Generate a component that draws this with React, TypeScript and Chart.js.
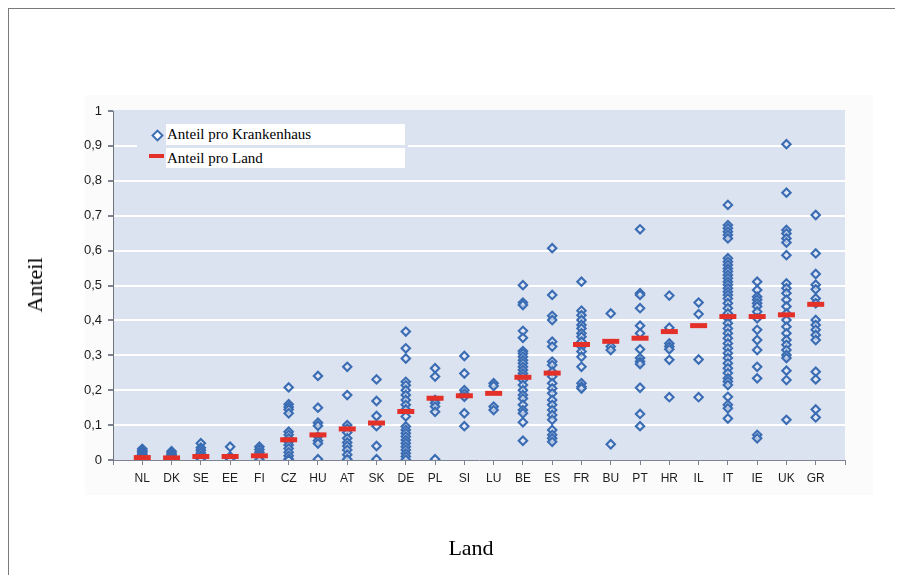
import React, { useEffect, useRef } from "react";
import { Chart, registerables } from "chart.js";

Chart.register(...registerables);

const countries = ["NL", "DK", "SE", "EE", "FI", "CZ", "HU", "AT", "SK", "DE", "PL", "SI", "LU", "BE", "ES", "FR", "BU", "PT", "HR", "IL", "IT", "IE", "UK", "GR"];

const countryMeans = [0.007, 0.006, 0.01, 0.01, 0.012, 0.058, 0.072, 0.089, 0.106, 0.139, 0.177, 0.184, 0.191, 0.237, 0.249, 0.331, 0.34, 0.349, 0.368, 0.385, 0.411, 0.411, 0.416, 0.446];

const NL = [0.032, 0.028, 0.024, 0.02, 0.016, 0.012, 0.008, 0.004, 0.0];
const DK = [0.025, 0.02, 0.016, 0.012, 0.008, 0.004, 0.0];
const SE = [0.048, 0.035, 0.028, 0.02, 0.012, 0.005, 0.0];
const EE = [0.038, 0.01, 0.004, 0.0];
const FI = [0.038, 0.03, 0.022, 0.015, 0.008, 0.0];
const CZ = [0.208, 0.16, 0.152, 0.145, 0.134, 0.081, 0.072, 0.062, 0.052, 0.043, 0.033, 0.022, 0.012, 0.003, 0.0];
const HU = [0.241, 0.15, 0.107, 0.098, 0.067, 0.055, 0.047, 0.002];
const AT = [0.267, 0.186, 0.1, 0.09, 0.079, 0.062, 0.05, 0.04, 0.029, 0.015, 0.002];
const SK = [0.231, 0.169, 0.126, 0.097, 0.04, 0.002];
const DE = [0.368, 0.32, 0.291, 0.224, 0.214, 0.2, 0.186, 0.172, 0.158, 0.145, 0.125, 0.096, 0.086, 0.077, 0.067, 0.057, 0.048, 0.038, 0.029, 0.019, 0.01, 0.001];
const PL = [0.263, 0.239, 0.172, 0.163, 0.153, 0.138, 0.002];
const SI = [0.298, 0.248, 0.2, 0.19, 0.181, 0.134, 0.097];
const LU = [0.22, 0.212, 0.153, 0.143];
const BE = [0.501, 0.451, 0.444, 0.37, 0.35, 0.312, 0.305, 0.296, 0.286, 0.277, 0.267, 0.258, 0.248, 0.239, 0.229, 0.215, 0.2, 0.186, 0.176, 0.158, 0.143, 0.134, 0.108, 0.055];
const ES = [0.607, 0.473, 0.413, 0.401, 0.339, 0.325, 0.282, 0.272, 0.253, 0.239, 0.22, 0.205, 0.191, 0.172, 0.158, 0.143, 0.129, 0.115, 0.086, 0.072, 0.062, 0.052];
const FR = [0.511, 0.428, 0.415, 0.401, 0.387, 0.377, 0.363, 0.353, 0.339, 0.325, 0.311, 0.296, 0.267, 0.22, 0.21, 0.205];
const BU = [0.42, 0.325, 0.315, 0.045];
const PT = [0.661, 0.478, 0.473, 0.435, 0.385, 0.363, 0.317, 0.292, 0.282, 0.275, 0.207, 0.132, 0.097];
const HR = [0.471, 0.379, 0.334, 0.325, 0.317, 0.287, 0.18];
const IL = [0.451, 0.418, 0.288, 0.18];
const IT = [0.731, 0.673, 0.664, 0.654, 0.645, 0.635, 0.578, 0.568, 0.559, 0.549, 0.54, 0.53, 0.521, 0.511, 0.502, 0.492, 0.482, 0.473, 0.463, 0.449, 0.435, 0.42, 0.406, 0.392, 0.377, 0.363, 0.349, 0.334, 0.32, 0.306, 0.292, 0.277, 0.263, 0.249, 0.234, 0.225, 0.215, 0.181, 0.158, 0.148, 0.119];
const IE = [0.511, 0.487, 0.468, 0.459, 0.449, 0.44, 0.425, 0.406, 0.373, 0.344, 0.315, 0.267, 0.234, 0.072, 0.062];
const UK = [0.905, 0.766, 0.659, 0.649, 0.635, 0.623, 0.587, 0.506, 0.492, 0.478, 0.459, 0.44, 0.42, 0.401, 0.382, 0.363, 0.344, 0.33, 0.315, 0.301, 0.292, 0.256, 0.229, 0.115];
const GR = [0.702, 0.592, 0.533, 0.502, 0.489, 0.463, 0.449, 0.401, 0.387, 0.373, 0.358, 0.344, 0.253, 0.231, 0.145, 0.122];

const hospitalValues = [NL, DK, SE, EE, FI, CZ, HU, AT, SK, DE, PL, SI, LU, BE, ES, FR, BU, PT, HR, IL, IT, IE, UK, GR];

const yTicks = [0, 0.1, 0.2, 0.3, 0.4, 0.5, 0.6, 0.7, 0.8, 0.9, 1];

const legendLabels = ["Anteil pro Krankenhaus", "Anteil pro Land"];
const yTitle = "Anteil";
const xTitle = "Land";

const PLOT_BG = "#dce3f0";
const BLUE = "#3a6cb3";
const RED = "#e3312a";

const bgPlugin = {
  id: "plotBg",
  beforeDraw(chart: any) {
    const { ctx, chartArea } = chart;
    ctx.save();
    ctx.fillStyle = "#fbfbfb";
    ctx.fillRect(76, 86, 788, 400);
    ctx.fillStyle = PLOT_BG;
    ctx.fillRect(chartArea.left, chartArea.top - 1, chartArea.right - chartArea.left, chartArea.bottom - chartArea.top + 1);
    ctx.restore();
  },
};

export default function App() {
  const ref = useRef<HTMLCanvasElement>(null);

  useEffect(() => {
    const hospitalPoints: { x: number; y: number }[] = [];
    hospitalValues.forEach((arr, i) => arr.forEach((v) => hospitalPoints.push({ x: i + 1, y: v })));
    const meanPoints = countryMeans.map((v, i) => ({ x: i + 1, y: v }));

    const chart = new Chart(ref.current!, {
      type: "scatter",
      data: {
        datasets: [
          {
            label: legendLabels[1],
            data: meanPoints,
            pointStyle: "line",
            pointRadius: 8.5,
            pointBorderWidth: 5,
            borderColor: RED,
            backgroundColor: RED,
            pointHoverRadius: 8.5,
          },
          {
            label: legendLabels[0],
            data: hospitalPoints,
            pointStyle: "rectRot",
            pointRadius: 4.2,
            pointBorderWidth: 2.1,
            borderColor: BLUE,
            backgroundColor: "rgba(225,231,243,0.7)",
            pointHoverRadius: 4.2,
          },
        ],
      },
      options: {
        responsive: false,
        animation: false,
        events: [],
        layout: { padding: { left: 64, right: 58, top: 102, bottom: 85 } },
        plugins: { legend: { display: false }, tooltip: { enabled: false } },
        scales: {
          x: {
            type: "linear",
            min: 0,
            max: 25,
            afterFit: (s: any) => { s.height = 30; },
            afterBuildTicks: (s: any) => {
              s.ticks = Array.from({ length: 26 }, (_, i) => ({ value: i }));
            },
            ticks: {
              autoSkip: false,
              maxRotation: 0,
              padding: 6,
              color: "#1f1f1f",
              font: { family: "'Liberation Sans', Arial, sans-serif", size: 12 },
              callback: (v: any) => countries[Math.round(v) - 1] ?? "",
            },
            grid: { drawOnChartArea: false, tickLength: 5, tickColor: "#7d8390" },
            border: { color: "#7d8390", width: 1 },
          },
          y: {
            min: 0,
            max: 1,
            afterFit: (s: any) => { s.width = 40; },
            afterBuildTicks: (s: any) => {
              s.ticks = yTicks.map((v) => ({ value: v }));
            },
            ticks: {
              padding: 6,
              color: "#1a1a1a",
              font: { family: "'Liberation Sans', Arial, sans-serif", size: 13 },
              callback: (v: any) => {
                const r = Math.round(v * 10) / 10;
                return r === 0 ? "0" : r === 1 ? "1" : r.toFixed(1).replace(".", ",");
              },
            },
            grid: {
              tickLength: 5,
              tickColor: "#7d8390",
              lineWidth: 2,
              color: (c: any) => (c.tick && c.tick.value > 0.01 && c.tick.value < 0.99 ? "#ffffff" : "rgba(0,0,0,0)"),
            },
            border: { color: "#6f7580", width: 1 },
          },
        },
      },
      plugins: [bgPlugin],
    });
    return () => chart.destroy();
  }, []);

  const serif = "'Liberation Serif', 'Times New Roman', serif";

  return (
    <div style={{ position: "relative", width: 894, height: 566, borderLeft: "1px solid #7a7a7a", borderTop: "1px solid #7a7a7a" }}>
      <canvas ref={ref} width={894} height={566} style={{ position: "absolute", left: 0, top: 0, width: 894, height: 566 }} />
      <div style={{ position: "absolute", left: 128, top: 109, width: 271, height: 54, background: PLOT_BG }} />
      <div style={{ position: "absolute", left: 157, top: 115, width: 239, height: 21, background: "#fff", fontFamily: serif, fontSize: 15, lineHeight: "21px", color: "#000", paddingLeft: 1, boxSizing: "border-box" }}>{legendLabels[0]}</div>
      <div style={{ position: "absolute", left: 157, top: 139, width: 239, height: 20, background: "#fff", fontFamily: serif, fontSize: 15, lineHeight: "20px", color: "#000", paddingLeft: 1, boxSizing: "border-box" }}>{legendLabels[1]}</div>
      <div style={{ position: "absolute", left: 144, top: 122, width: 5, height: 5, border: `2px solid ${BLUE}`, transform: "rotate(45deg)", background: "#fff" }} />
      <div style={{ position: "absolute", left: 140, top: 145, width: 15, height: 4, background: RED }} />
      <div style={{ position: "absolute", left: 26, top: 276, transform: "translate(-50%, -50%) rotate(-90deg)", fontFamily: serif, fontSize: 22, color: "#000", whiteSpace: "nowrap" }}>{yTitle}</div>
      <div style={{ position: "absolute", left: 462, top: 539, transform: "translate(-50%, -50%)", fontFamily: serif, fontSize: 22, color: "#000", whiteSpace: "nowrap" }}>{xTitle}</div>
    </div>
  );
}
